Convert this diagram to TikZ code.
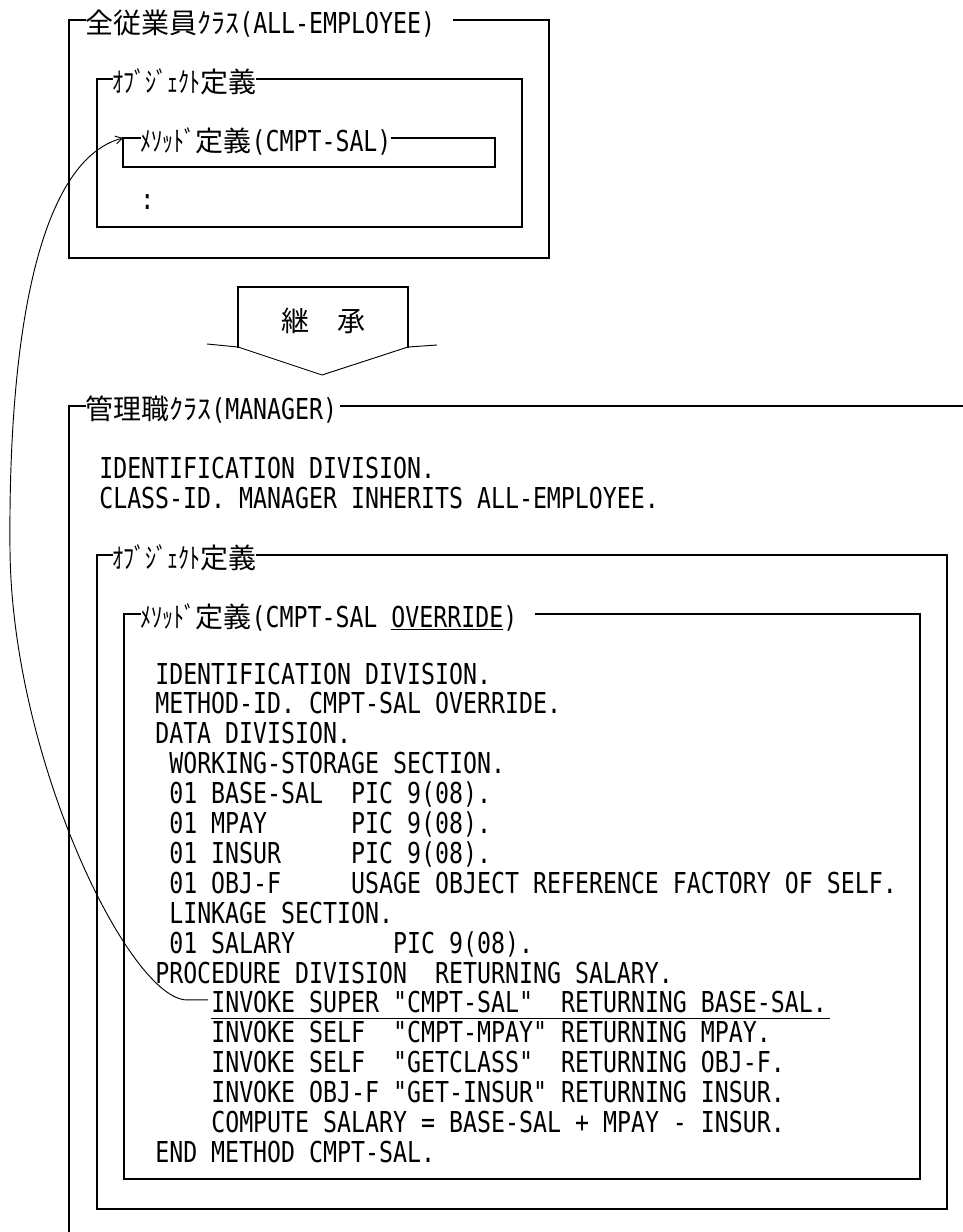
\documentclass[tikz,border=0pt]{standalone}
\usepackage{graphicx}
\usepackage{fontspec}
\usetikzlibrary{arrows.meta,calc}
\newfontfamily\jpf{Noto Sans CJK JP}
\newfontfamily\codf[FakeStretch=0.807]{DejaVu Sans Mono}
\newcommand\jp[1]{{\jpf\fontsize{21pt}{21pt}\selectfont #1}}
\newcommand\cd[1]{{\codf\fontsize{21.6pt}{22pt}\selectfont #1}}
\newcommand\hk[1]{\scalebox{0.79}[1]{\jp{#1}}}
\tikzset{
  txt/.style={inner sep=0pt, anchor=base west, font=\codf\fontsize{21.6pt}{22pt}\selectfont},
  ttl/.style={inner sep=0pt, anchor=base west},
  frame/.style={line width=1.2pt, line join=miter, line cap=rect},
  thinline/.style={line width=0.7pt},
  link/.style={line width=0.7pt, -{Straight Barb[length=5pt,width=6pt]}}
}
\begin{document}
\begin{tikzpicture}[x=0.75pt,y=-0.75pt]
\useasboundingbox (0,0) rectangle (963,1232);

% ---------- ALL-EMPLOYEE class ----------
\coordinate (A1) at (69,20);   \coordinate (A2) at (549,258);
\coordinate (B1) at (97,79);   \coordinate (B2) at (522,227);
\coordinate (C1) at (123,138); \coordinate (C2) at (495,167);
\node[ttl] (t1) at (85,33) {\jp{全従業員ｸﾗｽ}\cd{(ALL-EMPLOYEE)}};
\node[ttl] (t2) at (112,92) {\hk{ｵﾌﾞｼﾞｪｸﾄ}\jp{定義}};
\node[ttl] (t3) at (140,151) {\hk{ﾒｿｯﾄﾞ}\jp{定義}\cd{(CMPT-SAL)}};
\node[txt] (dots) at (140,209) {:};
\draw[frame] (t1.west |- A1) -- (A1) -- (A1 |- A2) -- (A2) -- (A2 |- A1) -- ($(t1.east |- A1)+(18,0)$);
\draw[frame] (t2.west |- B1) -- (B1) -- (B1 |- B2) -- (B2) -- (B2 |- B1) -- (t2.east |- B1);
\draw[frame] (t3.west |- C1) -- (C1) -- (C1 |- C2) -- (C2) -- (C2 |- C1) -- (t3.east |- C1);

% ---------- inheritance arrow ----------
\draw[frame] (238,347) -- (238,287) -- (408,287) -- (408,347);
\draw[thinline] (207,344) -- (238,347) -- (322,375) -- (408,347) -- (437,345);
\node[ttl, anchor=base] (inh) at (323,331) {\jp{継　承}};

% ---------- MANAGER class ----------
\coordinate (M1) at (69,406);  \coordinate (M2) at (963,406); \coordinate (M3) at (69,1232);
\coordinate (D1) at (97,555);  \coordinate (D2) at (947,1209);
\coordinate (E1) at (124,614); \coordinate (E2) at (920,1179);
\node[ttl] (t4) at (85,419) {\jp{管理職ｸﾗｽ}\cd{(MANAGER)}};
\node[ttl] (t5) at (112,568) {\hk{ｵﾌﾞｼﾞｪｸﾄ}\jp{定義}};
\node[ttl] (t6) at (140,627) {\hk{ﾒｿｯﾄﾞ}\jp{定義}\cd{(CMPT-SAL \underline{OVERRIDE})}};
\draw[frame] (M3) -- (M1) -- (t4.west |- M1);
\draw[frame] ($(t4.east |- M1)+(3,0)$) -- (M2);
\draw[frame] (t5.west |- D1) -- (D1) -- (D1 |- D2) -- (D2) -- (D2 |- D1) -- (t5.east |- D1);
\draw[frame] (t6.west |- E1) -- (E1) -- (E1 |- E2) -- (E2) -- (E2 |- E1) -- ($(t6.east |- E1)+(18,0)$);

\node[txt] (m1) at (99,478) {IDENTIFICATION DIVISION.};
\node[txt] (m2) at (99,508) {CLASS-ID. MANAGER INHERITS ALL-EMPLOYEE.};

\node[txt] (c0)  at (155,684)    {IDENTIFICATION DIVISION.};
\node[txt] (c1)  at (155,713.9)  {METHOD-ID. CMPT-SAL OVERRIDE.};
\node[txt] (c2)  at (155,743.8)  {DATA DIVISION.};
\node[txt] (c3)  at (169,773.7)  {WORKING-STORAGE SECTION.};
\node[txt] (c4)  at (169,803.6)  {01 BASE-SAL~~PIC 9(08).};
\node[txt] (c5)  at (169,833.5)  {01 MPAY~~~~~~PIC 9(08).};
\node[txt] (c6)  at (169,863.4)  {01 INSUR~~~~~PIC 9(08).};
\node[txt] (c7)  at (169,893.3)  {01 OBJ-F~~~~~USAGE OBJECT REFERENCE FACTORY OF SELF.};
\node[txt] (c8)  at (169,923.2)  {LINKAGE SECTION.};
\node[txt] (c9)  at (169,953.1)  {01 SALARY~~~~~~~PIC 9(08).};
\node[txt] (c10) at (155,983)    {PROCEDURE DIVISION~~RETURNING SALARY.};
\node[txt] (inv1) at (211,1012.9) {INVOKE SUPER "CMPT-SAL"~~RETURNING BASE-SAL.};
\node[txt] (inv2) at (211,1042.8) {INVOKE SELF~~"CMPT-MPAY" RETURNING MPAY.};
\node[txt] (inv3) at (211,1072.7) {INVOKE SELF~~"GETCLASS"~~RETURNING OBJ-F.};
\node[txt] (inv4) at (211,1102.6) {INVOKE OBJ-F "GET-INSUR" RETURNING INSUR.};
\node[txt] (comp) at (211,1132.5) {COMPUTE SALARY = BASE-SAL + MPAY - INSUR.};
\node[txt] (endm) at (155,1162.4) {END METHOD CMPT-SAL.};
\draw[thinline] ($(inv1.base west)+(0,6)$) -- ($(inv1.base east)+(3,6)$);

% ---------- SUPER call link ----------
\coordinate (S) at ($(inv1.base west)+(-3,-13)$);
\draw[link] (S) -- ++(-21,0) .. controls (130,1000) and (12,760) .. (10,550)
            .. controls (8,330) and (40,160) .. (C1);
\end{tikzpicture}
\end{document}
